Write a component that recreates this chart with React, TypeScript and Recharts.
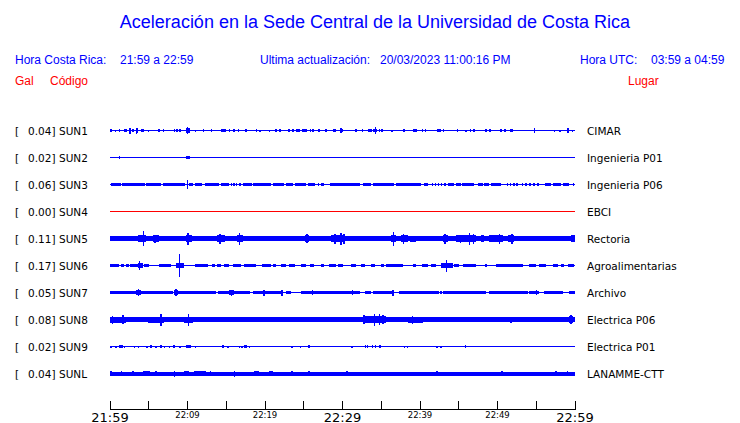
import { ComposedChart, Line, Scatter, ErrorBar, ReferenceArea, XAxis, YAxis } from "recharts";

type Band = [number, number, number]; // [from min, to min, half amplitude]
type Spike = [number, number]; // [min, half amplitude]

const codes = ["SUN1", "SUN2", "SUN3", "SUN4", "SUN5", "SUN6", "SUN7", "SUN8", "SUN9", "SUNL"];
const places = [
  "CIMAR", "Ingenieria P01", "Ingenieria P06", "EBCI", "Rectoria",
  "Agroalimentarias", "Archivo", "Electrica P06", "Electrica P01", "LANAMME-CTT",
];
const peaks = [0.04, 0.02, 0.06, 0.0, 0.11, 0.17, 0.05, 0.08, 0.02, 0.04];

const tickMinutes = [0, 5, 10, 15, 20, 25, 30, 35, 40, 45, 50, 55, 60];
const tickLabels = ["21:59", "", "22:09", "", "22:19", "", "22:29", "", "22:39", "", "22:49", "", "22:59"];

const sun1Bands: Band[] = [
  [1.85, 2.2, 1.7], [2.4, 2.75, 2.3], [2.9, 3.1, 1.5], [3.3, 3.6, 2.3], [8.2, 8.4, 1.5], [9.8, 10.3, 2.3],
  [14.3, 15.0, 1.7], [17.4, 17.7, 1.3], [21.25, 21.5, 1.5], [21.85, 22.05, 1.5], [22.95, 23.2, 1.7],
  [23.5, 23.7, 1.5], [24.8, 25.4, 1.7], [26.85, 27.05, 1.7], [29.7, 30.1, 1.7], [32.5, 32.7, 1.5],
  [33.9, 34.4, 1.7], [37.8, 38.05, 1.7], [39.05, 39.55, 1.3], [42.2, 42.7, 1.7], [46.9, 47.15, 1.5],
  [50.35, 50.6, 1.7], [50.9, 51.1, 1.7], [51.6, 52.05, 1.7],
];
const sun1Spikes: Spike[] = [
  [0.13, 1.5], [0.7, 1], [1.2, 1.5], [2.55, 3], [3.45, 3], [4.1, 1.5], [4.35, 1.5], [4.95, 1], [6.3, 1.5],
  [6.9, 1.5], [8.65, 1.5], [9.0, 1.5], [10.0, 3.5], [11.0, 1], [12.05, 1.3], [13.1, 1.3], [15.45, 1.3],
  [16.0, 1.3], [16.6, 1.3], [18.9, 1.3], [19.35, 1], [20.55, 1], [24.1, 1.3], [24.4, 1.3], [25.85, 1.3],
  [26.2, 1.3], [27.9, 1.3], [28.9, 1.3], [29.1, 1.3], [29.8, 2.5], [31.75, 1.3], [33.45, 1.3], [33.7, 1.3],
  [34.25, 3.3], [34.75, 1.3], [35.1, 1.3], [36.4, 1], [40.35, 1.3], [40.7, 1.3], [43.0, 1.3], [44.85, 1.5],
  [45.95, 1], [46.5, 1.3], [48.5, 1.3], [49.05, 1.3], [54.75, 2.7], [57.35, 1], [58.05, 1], [59.1, 2.5], [59.7, 1],
];

const sun2Bands: Band[] = [[9.8, 10.3, 1.7]];
const sun2Spikes: Spike[] = [[1.2, 1.5]];

const sun3Bands: Band[] = [
  [0.15, 1.4, 1.8], [1.55, 4.5, 1.8], [4.7, 6.6, 1.6], [6.8, 9.7, 1.8], [10.25, 10.75, 1.6], [11.0, 11.9, 1.5],
  [12.2, 14.1, 1.6], [14.3, 15.4, 1.5], [17.1, 18.3, 1.8], [18.5, 20.8, 1.8], [21.0, 22.5, 1.8],
  [22.7, 23.65, 1.8], [23.85, 25.3, 1.6], [25.5, 26.5, 1.6], [26.8, 27.0, 1.5], [27.2, 27.65, 1.2],
  [28.4, 32.25, 1.8], [32.6, 33.7, 1.8], [33.9, 36.7, 1.8], [36.9, 40.1, 1.8], [40.55, 41.0, 1.5],
  [43.55, 44.45, 1.6], [44.65, 45.3, 1.6], [45.4, 47.0, 1.8], [47.45, 48.1, 1.6], [48.3, 48.95, 1.6],
  [49.15, 50.45, 1.6], [56.15, 56.9, 1.6], [57.1, 58.2, 1.6], [58.5, 59.25, 1.6],
];
const sun3Spikes: Spike[] = [
  [10.0, 4.3], [15.7, 1.5], [16.0, 1.5], [16.3, 1.5], [16.8, 1.8], [41.6, 1.3], [42.0, 1.3], [42.4, 1.3],
  [42.8, 1.3], [43.2, 1.3], [51.3, 1.3], [51.7, 1.3], [52.1, 1.3], [52.5, 1.3], [53.2, 1.3], [53.7, 1.3],
  [54.2, 1.3], [54.7, 1.3], [55.2, 1.3], [59.8, 1.5],
];

const sun4Bands: Band[] = [];
const sun4Spikes: Spike[] = [];

const sun5Bands: Band[] = [
  [0, 60, 2.2], [0, 0.75, 2.6], [1.2, 2.0, 2.8], [3.55, 4.65, 3.2], [5.5, 6.35, 3.2], [7.45, 8.1, 2.8],
  [9.8, 10.6, 3.5], [11.1, 12.8, 2.6], [13.75, 14.9, 3.5], [16.45, 17.1, 3.5], [17.1, 18.4, 2.8],
  [21.2, 21.75, 2.8], [23.55, 24.0, 2.6], [25.1, 25.7, 3.5], [28.5, 30.2, 3.5], [31.3, 32.2, 2.8],
  [33.45, 34.1, 2.8], [34.95, 35.8, 2.8], [36.25, 36.9, 3.5], [37.55, 38.4, 3.5], [38.7, 39.5, 3],
  [43.0, 43.55, 3.5], [44.65, 47.2, 3.2], [47.85, 48.3, 3.2], [48.95, 50.65, 3.2], [51.3, 52.15, 3.5],
  [55.6, 56.25, 2.8], [59.5, 60, 3.2],
];
const sun5Spikes: Spike[] = [
  [4.3, 7.5], [5.8, 4], [10.05, 6], [14.2, 5], [16.7, 6], [25.4, 4.5], [29.05, 5], [29.8, 6], [30.2, 5],
  [36.55, 7], [37.9, 5], [43.25, 5], [45.2, 4], [46.4, 6], [46.9, 5], [50.25, 5], [51.85, 5],
];

const sun6Bands: Band[] = [
  [0, 1.2, 1.7], [1.45, 1.85, 1.3], [2.05, 2.5, 1.3], [2.6, 3.55, 1.7], [3.55, 4.2, 2.5], [4.45, 5.0, 1.5],
  [6.3, 7.85, 1.7], [8.5, 9.6, 2.7], [11.0, 12.6, 1.7], [13.15, 13.6, 1.5], [13.8, 14.3, 1.5],
  [14.75, 15.4, 1.5], [15.9, 16.9, 1.7], [17.35, 18.85, 1.7], [19.6, 20.8, 1.7], [21.0, 21.4, 1.5],
  [22.05, 22.7, 1.7], [23.05, 23.9, 1.5], [24.65, 25.3, 1.7], [25.8, 26.35, 1.5], [27.2, 27.65, 1.5],
  [28.2, 29.15, 1.7], [29.4, 30.0, 1.5], [31.1, 31.75, 1.5], [32.4, 32.95, 1.5], [33.7, 34.25, 1.5],
  [34.95, 35.4, 1.3], [35.6, 37.85, 1.7], [39.05, 39.5, 1.3], [40.25, 41.0, 1.5], [41.4, 42.05, 1.5],
  [42.7, 44.2, 2.5], [44.45, 45.05, 1.5], [45.5, 47.2, 1.7], [49.8, 53.25, 1.7], [54.1, 54.95, 1.5],
  [55.4, 56.25, 1.3], [57.1, 57.75, 1.5], [58.2, 58.6, 1.3], [59.05, 59.9, 1.3],
];
const sun6Spikes: Spike[] = [[3.8, 4.5], [8.95, 11.8], [43.45, 6], [48.5, 1.5]];

const sun7Bands: Band[] = [
  [0, 3.35, 1.8], [3.35, 4.0, 2.8], [4.0, 8.1, 1.8], [8.3, 8.75, 2.8], [8.75, 13.7, 1.8], [13.9, 18.0, 1.8],
  [15.4, 16.05, 2.3], [18.4, 22.3, 1.8], [22.7, 23.35, 1.5], [24.65, 32.2, 1.8], [32.95, 33.7, 1.8],
  [33.9, 36.7, 1.9], [37.35, 42.5, 1.6], [43.0, 48.5, 1.8], [48.95, 53.9, 1.8], [54.1, 55.4, 1.9],
  [56.05, 58.4, 1.8], [59.25, 60, 1.8],
];
const sun7Spikes: Spike[] = [
  [3.7, 3.5], [8.5, 3.2], [15.7, 3], [19.9, 3], [22.2, 3], [26.15, 2.5], [31.3, 2.5], [36.5, 3],
  [42.7, 1.5], [55.05, 2.5],
];

const sun8Bands: Band[] = [
  [0, 60, 2.2], [0, 2.05, 3], [4.85, 7.0, 3], [7.45, 8.3, 2.8], [9.6, 10.65, 3], [13.25, 15.6, 2.8],
  [16.25, 17.95, 2.8], [30.9, 31.85, 2.8], [32.6, 35.6, 3.5], [38.4, 40.35, 3], [59.25, 59.7, 3.5],
];
const sun8Spikes: Spike[] = [
  [0.35, 4], [1.65, 4.5], [6.6, 6], [10.1, 6], [19.35, 2.8], [21.65, 2.8], [24.85, 2.8], [26.6, 2.8],
  [28.5, 2.8], [32.8, 4.5], [34.1, 6], [34.75, 5.5], [35.2, 4.5], [39.05, 4], [45.7, 2.8], [51.75, 3],
  [55.8, 2.8], [57.35, 2.8], [59.5, 4.5],
];

const sun9Bands: Band[] = [
  [1.1, 1.65, 1.7], [8.1, 8.35, 1.7], [9.8, 10.4, 1.7], [17.25, 17.65, 1.5], [34.65, 35.0, 1.5],
];
const sun9Spikes: Spike[] = [
  [0.15, 1], [0.8, 1], [1.85, 1], [3.15, 1], [3.65, 1], [4.75, 1], [5.3, 1.3], [5.95, 1], [6.6, 1.3],
  [7.0, 1], [7.65, 1], [9.05, 1], [11.0, 1], [14.6, 1.3], [15.2, 1], [16.7, 1], [17.05, 1], [18.0, 1],
  [23.5, 1], [24.55, 1], [25.7, 1.5], [31.2, 1], [32.95, 1.3], [33.25, 1.3], [33.9, 1.3], [34.25, 1.3],
  [38.0, 1], [38.4, 1], [42.2, 1], [42.7, 1], [45.85, 1.3],
];

const sunlBands: Band[] = [
  [0, 60, 2.0], [4.2, 5.15, 2.6], [9.7, 10.25, 2.6], [10.9, 11.45, 2.6], [11.5, 12.4, 2.6],
  [18.6, 19.2, 2.3], [20.5, 21.0, 2.5],
];
const sunlSpikes: Spike[] = [
  [0.15, 2.5], [1.5, 2.5], [2.95, 2.3], [5.95, 2.5], [8.3, 3], [9.6, 2.5], [12.95, 2.3], [16.05, 3],
  [18.85, 2.5], [23.5, 2.3], [25.65, 2.5], [30.55, 2.6], [42.2, 2.8], [50.55, 2.5], [57.55, 2.5], [59.05, 2.5],
];

const allBands = [sun1Bands, sun2Bands, sun3Bands, sun4Bands, sun5Bands, sun6Bands, sun7Bands, sun8Bands, sun9Bands, sunlBands];
const allSpikes = [sun1Spikes, sun2Spikes, sun3Spikes, sun4Spikes, sun5Spikes, sun6Spikes, sun7Spikes, sun8Spikes, sun9Spikes, sunlSpikes];

// each trace sits in its own 27-unit slot, trace 0 at 0
const SLOT = 27;
const baselines = codes.map((_, i) => -SLOT * i);

const BLUE = "#0000ff";
const RED = "#ff0000";
const traceFont = "'DejaVu Sans', sans-serif";
const headFont = "'Liberation Sans', Arial, sans-serif";

const LeftTick = ({ y, payload }: any) => {
  const i = baselines.indexOf(payload.value);
  if (i < 0) return null;
  return (
    <g fontFamily={traceFont} fontSize={10.5} fill="#000">
      <text x={15} y={y + 4}>[</text>
      <text x={55.5} y={y + 4} textAnchor="end">{peaks[i].toFixed(2)}]</text>
      <text x={59} y={y + 4}>{codes[i]}</text>
    </g>
  );
};

const RightTick = ({ y, payload }: any) => {
  const i = baselines.indexOf(payload.value);
  if (i < 0) return null;
  return (
    <text x={587} y={y + 4} fontFamily={traceFont} fontSize={10.5} fill="#000">
      {places[i]}
    </text>
  );
};

const TimeTick = ({ x, y, payload }: any) => {
  const i = tickMinutes.indexOf(payload.value);
  const label = tickLabels[i] || "";
  const big = payload.value % 30 === 0;
  return (
    <g>
      <line x1={x} y1={y - 9} x2={x} y2={y} stroke="#000" strokeWidth={1} shapeRendering="crispEdges" />
      {label && (
        <text
          x={x}
          y={big ? y + 12 : y + 8.5}
          textAnchor="middle"
          fontFamily={traceFont}
          fontSize={big ? 13 : 8.5}
          fill="#000"
        >
          {label}
        </text>
      )}
    </g>
  );
};

export default function App() {
  return (
    <div style={{ position: "absolute", left: 0, top: 0, width: 740, height: 423, overflow: "hidden", background: "#fff" }}>
      <ComposedChart width={740} height={423.5} margin={{ top: 103.5, right: 0, bottom: 0, left: 0 }}>
        <XAxis
          dataKey="t"
          type="number"
          domain={[0, 60]}
          ticks={tickMinutes}
          allowDataOverflow
          height={14}
          tickLine={false}
          tickSize={0}
          tickMargin={0}
          interval={0}
          axisLine={{ stroke: "#000", strokeWidth: 1 }}
          tick={<TimeTick />}
        />
        <YAxis
          yAxisId="l"
          type="number"
          domain={[-279, 27]}
          allowDataOverflow
          ticks={baselines}
          interval={0}
          width={110}
          axisLine={false}
          tickLine={false}
          tick={<LeftTick />}
        />
        <YAxis
          yAxisId="r"
          orientation="right"
          type="number"
          domain={[-279, 27]}
          allowDataOverflow
          ticks={baselines}
          interval={0}
          width={165}
          axisLine={false}
          tickLine={false}
          tick={<RightTick />}
        />

        {allBands.map((bands, i) =>
          bands.map(([t0, t1, h], j) => (
            <ReferenceArea
              key={`b${i}-${j}`}
              yAxisId="l"
              x1={t0}
              x2={t1}
              y1={baselines[i] - h}
              y2={baselines[i] + h}
              fill={BLUE}
              fillOpacity={1}
              stroke="none"
              ifOverflow="visible"
              shapeRendering="crispEdges"
            />
          ))
        )}

        {baselines.map((b, i) => (
          <Line
            key={`l${i}`}
            yAxisId="l"
            data={[{ t: 0, y: b }, { t: 60, y: b }]}
            dataKey="y"
            stroke={i === 3 ? RED : BLUE}
            strokeWidth={1}
            dot={false}
            isAnimationActive={false}
          />
        ))}

        {allSpikes.map((spikes, i) => (
          <Scatter
            key={`s${i}`}
            yAxisId="l"
            data={spikes.map(([t, h]) => ({ t, y: baselines[i], e: h }))}
            dataKey="y"
            shape={() => <g />}
            isAnimationActive={false}
          >
            <ErrorBar
              dataKey="e"
              direction="y"
              width={0}
              stroke={BLUE}
              strokeWidth={1.5}
              shapeRendering="crispEdges"
              isAnimationActive={false}
            />
          </Scatter>
        ))}
      </ComposedChart>

      <svg width={740} height={100} style={{ position: "absolute", left: 0, top: 0 }}>
        <text x={375} y={28} textAnchor="middle" fontFamily={headFont} fontSize={18} fill={BLUE}>
          Aceleración en la Sede Central de la Universidad de Costa Rica
        </text>
        <g fontFamily={headFont} fontSize={12} fill={BLUE}>
          <text x={15} y={64}>Hora Costa Rica:</text>
          <text x={120} y={64}>21:59 a 22:59</text>
          <text x={260} y={64}>Ultima actualización:</text>
          <text x={380} y={64}>20/03/2023 11:00:16 PM</text>
          <text x={580} y={64}>Hora UTC:</text>
          <text x={651} y={64}>03:59 a 04:59</text>
        </g>
        <g fontFamily={headFont} fontSize={12} fill={RED}>
          <text x={15} y={85}>Gal</text>
          <text x={50} y={85}>Código</text>
          <text x={628} y={85}>Lugar</text>
        </g>
      </svg>
    </div>
  );
}
